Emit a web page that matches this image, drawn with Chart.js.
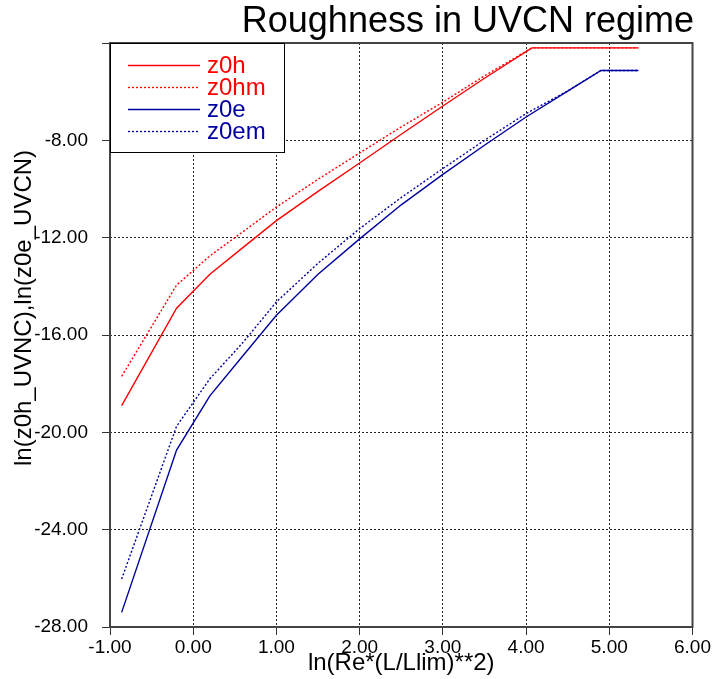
<!DOCTYPE html>
<html>
<head>
<meta charset="utf-8">
<script src="https://cdn.jsdelivr.net/npm/chart.js@4"></script>
<style>
  html, body { margin: 0; padding: 0; background: #fff; }
  #box { width: 712px; height: 679px; }
</style>
</head>
<body>
<div id="box"><canvas id="rough"></canvas></div>
<script>
// ---------------- data ----------------
const xsH   = [-0.86, -0.2, 0.2, 0.6, 1.0, 1.5, 2.0, 2.5, 3.0, 3.5, 4.07, 5.35];
const z0h   = [-18.9, -14.9, -13.5, -12.4, -11.3, -10.1, -8.93, -7.75, -6.59, -5.45, -4.2, -4.2];
const z0hm  = [-17.7, -13.95, -12.75, -11.75, -10.74, -9.6, -8.52, -7.45, -6.43, -5.35, -4.2, -4.2];

const xsE   = [-0.86, -0.2, 0.2, 0.6, 1.0, 1.5, 2.0, 2.5, 3.0, 3.5, 4.0, 4.5, 4.9, 5.35];
const z0e   = [-27.4, -20.73, -18.5, -16.84, -15.19, -13.5, -12.05, -10.65, -9.4, -8.2, -7.04, -5.98, -5.13, -5.13];
const z0em  = [-26.03, -19.75, -17.8, -16.3, -14.64, -13.05, -11.63, -10.35, -9.16, -8.0, -6.9, -5.97, -5.13, -5.13];

const yTitle = "ln(z0h_UVNC),ln(z0e_UVCN)";

const RED = "#ff0000";
const BLUE = "#0000a0";
const FONT = "'Liberation Sans', Arial, sans-serif";

function pts(xs, ys) {
    return xs.map((x, i) => ({ x: x, y: ys[i] }));
}

// frame round the plot area, y title (sits a bit above centre), legend box inside the plot
const framePlugin = {
    id: 'frame',
    beforeDatasetsDraw(chart) {
        const a = chart.chartArea, c = chart.ctx;
        c.save();
        c.strokeStyle = "#444";
        c.lineWidth = 2;
        c.strokeRect(a.left, a.top, a.right - a.left, a.bottom - a.top);
        c.restore();
    },
    afterDatasetsDraw(chart) {
        const a = chart.chartArea, c = chart.ctx;
        c.save();
        c.translate(24, (a.top + a.bottom) / 2 - 27);
        c.rotate(-Math.PI / 2);
        c.font = "24px " + FONT;
        c.fillStyle = "#000";
        c.textAlign = "center";
        c.textBaseline = "middle";
        c.fillText(yTitle, 0, 0);
        c.restore();

        c.save();
        c.fillStyle = "#fff";
        c.fillRect(a.left, a.top, 174, 109);
        c.strokeStyle = "#000";
        c.lineWidth = 1;
        c.strokeRect(a.left + 0.5, a.top + 0.5, 174, 109);
        c.font = "24px " + FONT;
        c.textBaseline = "middle";
        chart.data.datasets.forEach((ds, i) => {
            const y = a.top + 22 + i * 22;
            c.strokeStyle = ds.borderColor;
            c.lineWidth = 1.3;
            c.setLineDash(ds.borderDash || []);
            c.beginPath();
            c.moveTo(a.left + 18, y + 0.5);
            c.lineTo(a.left + 90, y + 0.5);
            c.stroke();
            c.setLineDash([]);
            c.fillStyle = ds.borderColor;
            c.fillText(ds.label, a.left + 97, y + 1);
        });
        c.restore();
    }
};

let rough = new Chart(document.getElementById("rough"), {
    type: 'scatter',
    data: {
        datasets: [
            { label: "z0h",  data: pts(xsH, z0h),  borderColor: RED,  borderWidth: 1.4 },
            { label: "z0hm", data: pts(xsH, z0hm), borderColor: RED,  borderWidth: 1.4, borderDash: [2, 2] },
            { label: "z0e",  data: pts(xsE, z0e),  borderColor: BLUE, borderWidth: 1.4 },
            { label: "z0em", data: pts(xsE, z0em), borderColor: BLUE, borderWidth: 1.4, borderDash: [2, 2] }
        ]
    },
    options: {
        responsive: true,
        maintainAspectRatio: false,
        animation: false,
        showLine: true,
        elements: { point: { radius: 0 }, line: { tension: 0 } },
        layout: { padding: { left: 0, right: 18, top: 0, bottom: 0 } },
        plugins: {
            legend: { display: false },
            tooltip: { enabled: false },
            title: {
                display: true,
                text: "Roughness in UVCN regime",
                align: 'end',
                color: "#000",
                font: { family: FONT, size: 36, weight: 'normal', lineHeight: 1.0 },
                padding: { top: 4, bottom: 3 }
            }
        },
        scales: {
            x: {
                type: 'linear',
                min: -1, max: 6,
                afterFit(s) { s.height = 52; },
                border: { display: false, dash: [2, 2] },
                grid: { color: "#222", tickLength: 8, tickBorderDash: [], tickColor: "#333" },
                ticks: {
                    stepSize: 1, padding: 1, color: "#000",
                    font: { family: FONT, size: 19 },
                    callback: v => v.toFixed(2)
                },
                title: {
                    display: true, text: "ln(Re*(L/Llim)**2)", color: "#000",
                    font: { family: FONT, size: 24 },
                    padding: { top: 0, bottom: 1 }
                }
            },
            y: {
                min: -28, max: -4,
                afterFit(s) { s.width = 110; },
                border: { display: false, dash: [2, 2] },
                grid: { color: "#222", tickLength: 8, tickBorderDash: [], tickColor: "#333" },
                ticks: {
                    stepSize: 4, padding: 14, color: "#000",
                    font: { family: FONT, size: 19 },
                    callback: v => (v === -4 ? "" : v.toFixed(2))
                },
                title: { display: false }
            }
        }
    },
    plugins: [framePlugin]
});
</script>
</body>
</html>
